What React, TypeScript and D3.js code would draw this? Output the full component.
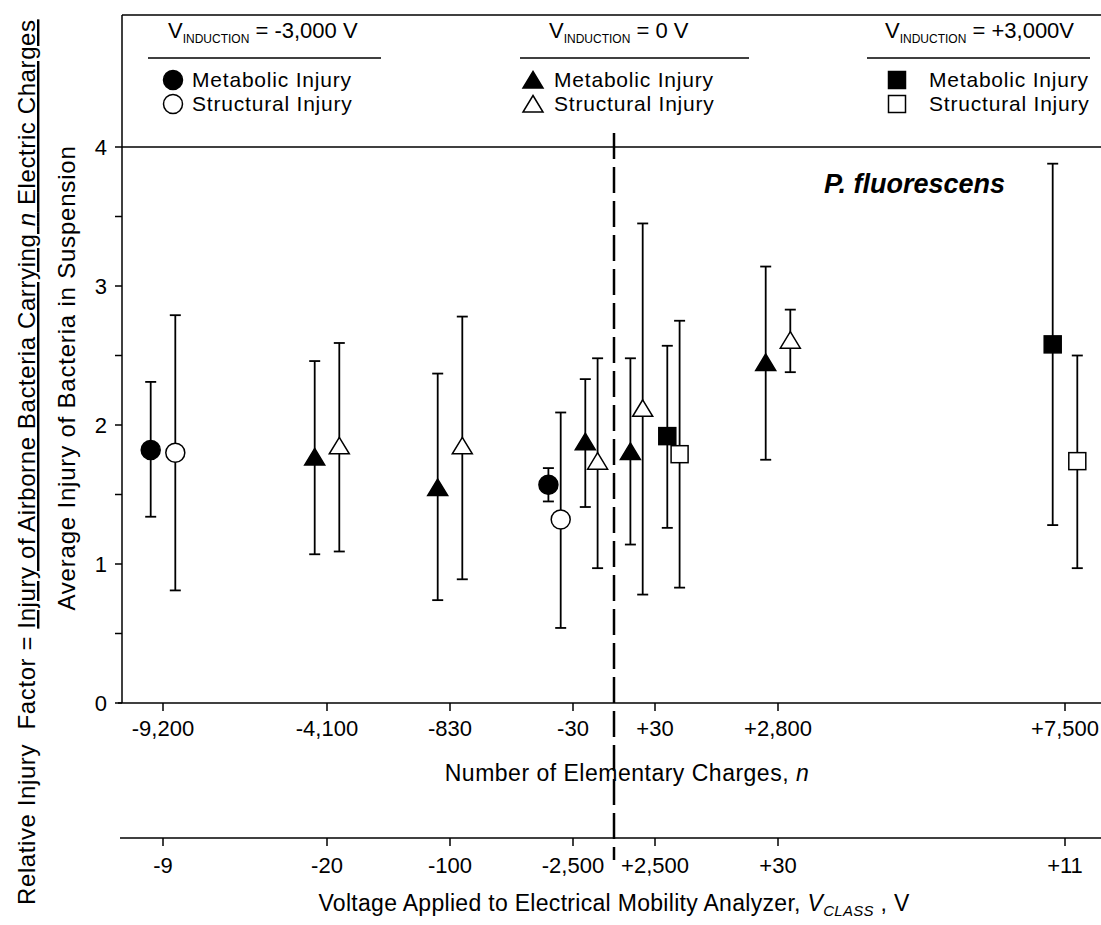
import * as d3 from 'd3';

// numeric x positions of the category ticks in the original plot
const tickPos = [1, 5, 8, 11, 13, 16, 23];
const chargeLabels = ['-9,200', '-4,100', '-830', '-30', '+30', '+2,800', '+7,500'];
const voltageLabels = ['-9', '-20', '-100', '-2,500', '+2,500', '+30', '+11'];
const polarityBoundary = 12;

// V_INDUCTION = -3,000 V (circles)
const circleMetX = [0.7, 10.4];
const circleMetMean = [1.82, 1.57];
const circleMetLo = [1.34, 1.45];
const circleMetHi = [2.31, 1.69];
const circleStrX = [1.3, 10.7];
const circleStrMean = [1.80, 1.32];
const circleStrLo = [0.81, 0.54];
const circleStrHi = [2.79, 2.09];

// V_INDUCTION = 0 V (triangles)
const triMetX = [4.7, 7.7, 11.3, 12.4, 15.7];
const triMetMean = [1.77, 1.55, 1.88, 1.81, 2.45];
const triMetLo = [1.07, 0.74, 1.41, 1.14, 1.75];
const triMetHi = [2.46, 2.37, 2.33, 2.48, 3.14];
const triStrX = [5.3, 8.3, 11.6, 12.7, 16.3];
const triStrMean = [1.85, 1.85, 1.74, 2.12, 2.61];
const triStrLo = [1.09, 0.89, 0.97, 0.78, 2.38];
const triStrHi = [2.59, 2.78, 2.48, 3.45, 2.83];

// V_INDUCTION = +3,000 V (squares)
const sqMetX = [13.3, 22.7];
const sqMetMean = [1.92, 2.58];
const sqMetLo = [1.26, 1.28];
const sqMetHi = [2.57, 3.88];
const sqStrX = [13.6, 23.3];
const sqStrMean = [1.79, 1.74];
const sqStrLo = [0.83, 0.97];
const sqStrHi = [2.75, 2.50];

type Shape = 'circle' | 'triangle' | 'square';

interface Series {
  shape: Shape;
  filled: boolean;
  x: number[];
  mean: number[];
  lo: number[];
  hi: number[];
}

const series: Series[] = [
  { shape: 'circle', filled: true, x: circleMetX, mean: circleMetMean, lo: circleMetLo, hi: circleMetHi },
  { shape: 'circle', filled: false, x: circleStrX, mean: circleStrMean, lo: circleStrLo, hi: circleStrHi },
  { shape: 'triangle', filled: true, x: triMetX, mean: triMetMean, lo: triMetLo, hi: triMetHi },
  { shape: 'triangle', filled: false, x: triStrX, mean: triStrMean, lo: triStrLo, hi: triStrHi },
  { shape: 'square', filled: true, x: sqMetX, mean: sqMetMean, lo: sqMetLo, hi: sqMetHi },
  { shape: 'square', filled: false, x: sqStrX, mean: sqStrMean, lo: sqStrLo, hi: sqStrHi },
];

const legendVoltages = ['= -3,000 V', '= 0 V', '= +3,000V'];
const legendShapes: Shape[] = ['circle', 'triangle', 'square'];

const FONT = '"Liberation Sans", Arial, Helvetica, sans-serif';

function Marker({ shape, filled, cx, cy }: { shape: Shape; filled: boolean; cx: number; cy: number }) {
  const fill = filled ? '#000' : '#fff';
  if (shape === 'circle') {
    return <circle cx={cx} cy={cy} r={9.5} fill={fill} stroke="#000" strokeWidth={1.5} />;
  }
  if (shape === 'triangle') {
    const d = `M${cx},${cy - 8.5}L${cx + 10},${cy + 8}L${cx - 10},${cy + 8}Z`;
    return <path d={d} fill={fill} stroke="#000" strokeWidth={1.5} />;
  }
  return <rect x={cx - 8.5} y={cy - 8.5} width={17} height={17} fill={fill} stroke="#000" strokeWidth={1.5} />;
}

export default function App() {
  const width = 1101;
  const height = 925;
  const frameTop = 15;
  const axisLeft = 122;
  const voltAxisY = 838;

  const x = d3.scaleLinear().domain([0, 24]).range([axisLeft, axisLeft + 24 * 41]);
  const y = d3.scaleLinear().domain([0, 4]).range([703, 147]);
  const yTicks = d3.range(0, 4.01, 0.5);
  const capHalf = 5.5;

  // legend layout
  const legendX = [168, 549, 885];
  const ruleX: [number, number][] = [[148, 381], [520, 749], [867, 1090]];
  const symX = [173, 533, 897];
  const labelX = [192, 554, 929];
  const rowY = [80, 104];

  return (
    <svg
      width={width}
      height={height}
      style={{ position: 'absolute', left: 0, top: 0, background: '#fff' }}
      fontFamily={FONT}
    >
      <rect width={width} height={height} fill="#fff" />

      {/* frame */}
      <line x1={axisLeft} x2={width} y1={frameTop} y2={frameTop} stroke="#000" strokeWidth={1.5} />
      <line x1={axisLeft} x2={width} y1={y(4)} y2={y(4)} stroke="#000" strokeWidth={1.5} />
      <line x1={axisLeft} x2={axisLeft} y1={frameTop} y2={y(0)} stroke="#000" strokeWidth={1.5} />
      <line x1={axisLeft - 4} x2={width} y1={y(0)} y2={y(0)} stroke="#000" strokeWidth={1.5} />

      {/* y ticks */}
      {yTicks.map((t) => (
        <g key={t}>
          <line x1={axisLeft - 7} x2={axisLeft} y1={y(t)} y2={y(t)} stroke="#000" strokeWidth={1.5} />
          {Number.isInteger(t) && (
            <text x={107} y={y(t)} dy="0.36em" textAnchor="end" fontSize={22}>
              {t}
            </text>
          )}
        </g>
      ))}

      {/* n axis */}
      {tickPos.map((p, i) => (
        <g key={'n' + i}>
          <line x1={x(p)} x2={x(p)} y1={y(0)} y2={y(0) + 8} stroke="#000" strokeWidth={1.5} />
          <text x={x(p)} y={736} textAnchor="middle" fontSize={22}>
            {chargeLabels[i]}
          </text>
        </g>
      ))}
      <text x={x(polarityBoundary) + 13} y={781} textAnchor="middle" fontSize={23} letterSpacing={0.5}>
        Number of Elementary Charges, <tspan fontStyle="italic">n</tspan>
      </text>

      {/* V_CLASS axis */}
      <line x1={axisLeft - 2} x2={width} y1={voltAxisY} y2={voltAxisY} stroke="#000" strokeWidth={1.5} />
      {tickPos.map((p, i) => (
        <g key={'v' + i}>
          <line x1={x(p)} x2={x(p)} y1={voltAxisY} y2={voltAxisY + 8} stroke="#000" strokeWidth={1.5} />
          <text x={x(p)} y={873} textAnchor="middle" fontSize={22}>
            {voltageLabels[i]}
          </text>
        </g>
      ))}
      <text x={x(polarityBoundary)} y={911} textAnchor="middle" fontSize={23} letterSpacing={0.3} style={{ whiteSpace: 'pre' }}>
        Voltage Applied to Electrical Mobility Analyzer, <tspan fontStyle="italic">V</tspan>
        <tspan fontStyle="italic" fontSize={15} dy={5}>CLASS</tspan>
        <tspan dy={-5}> , V</tspan>
      </text>

      {/* y titles */}
      <text
        transform="translate(35,905) rotate(-90)"
        fontSize={24}
        letterSpacing={0.6}
        style={{ whiteSpace: 'pre' }}
      >
        {'Relative Injury  Factor = '}
        <tspan textDecoration="underline">
          Injury of Airborne Bacteria Carrying <tspan fontStyle="italic">n</tspan> Electric Charges
        </tspan>
      </text>
      <text transform="translate(75,378) rotate(-90)" textAnchor="middle" fontSize={24} letterSpacing={0.8}>
        Average Injury of Bacteria in Suspension
      </text>

      {/* polarity divider */}
      <line
        x1={x(polarityBoundary)}
        x2={x(polarityBoundary)}
        y1={133}
        y2={860}
        stroke="#000"
        strokeWidth={2.5}
        strokeDasharray="26 8"
      />

      {/* error bars */}
      {series.map((s, si) =>
        s.x.map((xv, i) => (
          <g key={`e${si}-${i}`} stroke="#000" strokeWidth={1.8}>
            <line x1={x(xv)} x2={x(xv)} y1={y(s.lo[i])} y2={y(s.hi[i])} />
            <line x1={x(xv) - capHalf} x2={x(xv) + capHalf} y1={y(s.lo[i])} y2={y(s.lo[i])} />
            <line x1={x(xv) - capHalf} x2={x(xv) + capHalf} y1={y(s.hi[i])} y2={y(s.hi[i])} />
          </g>
        ))
      )}

      {/* markers */}
      {series.map((s, si) =>
        s.x.map((xv, i) => (
          <Marker key={`m${si}-${i}`} shape={s.shape} filled={s.filled} cx={x(xv)} cy={y(s.mean[i])} />
        ))
      )}

      <text x={824} y={193} fontSize={27} fontWeight="bold" fontStyle="italic">
        P. fluorescens
      </text>

      {/* legend */}
      {legendVoltages.map((v, i) => (
        <g key={'lg' + i}>
          <text x={legendX[i]} y={38} fontSize={22}>
            V<tspan fontSize={12} dy={5}>INDUCTION</tspan>
            <tspan dy={-5}> {v}</tspan>
          </text>
          <line x1={ruleX[i][0]} x2={ruleX[i][1]} y1={58} y2={58} stroke="#000" strokeWidth={1.5} />
          <Marker shape={legendShapes[i]} filled={true} cx={symX[i]} cy={rowY[0]} />
          <text x={labelX[i]} y={rowY[0]} dy="0.35em" fontSize={21} letterSpacing={0.8}>Metabolic Injury</text>
          <Marker shape={legendShapes[i]} filled={false} cx={symX[i]} cy={rowY[1]} />
          <text x={labelX[i]} y={rowY[1]} dy="0.35em" fontSize={21} letterSpacing={0.8}>Structural Injury</text>
        </g>
      ))}
    </svg>
  );
}
